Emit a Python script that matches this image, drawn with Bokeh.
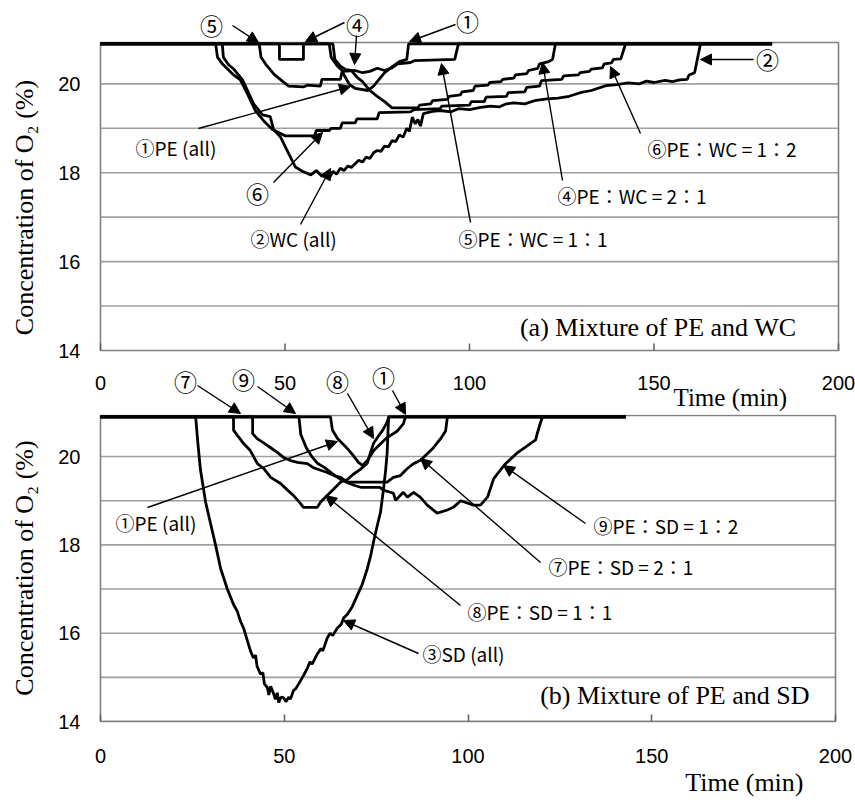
from bokeh.plotting import figure
from bokeh.models import Range1d, FixedTicker, Label, Arrow, NormalHead, Title
from bokeh.layouts import column
from bokeh.embed import file_html
from bokeh.resources import INLINE

# ---------------- data (time in min, O2 concentration in %) ----------------
time_ticks = [0, 50, 100, 150, 200]
o2_ticks = [14, 16, 18, 20]
grid_levels = [15, 16, 17, 18, 19, 20]

# (a) Mixture of PE and WC
a1_t = [0, 62, 62.5, 64, 65.5, 66, 67.5, 69, 72.5, 74, 75.5, 77, 79, 81, 83, 83.5, 182]
a1_y = [20.9, 20.9, 20.6, 20.42, 20.3, 20.2, 19.98, 19.9, 19.85, 19.95, 20.1, 20.25, 20.38, 20.5, 20.55, 20.9, 20.9]

a2_t = [0, 33, 33.3, 34.7, 36, 38.5, 41.5, 43.9, 46, 46.9, 48.8, 51, 52.8, 55, 57, 58.5, 60, 61, 62, 63,
        64, 65, 66, 67, 68, 69, 70, 71, 72, 73, 74, 75, 76, 77, 78, 79, 80, 81, 82, 83,
        83.7, 84.5, 85.3, 86, 86.7, 87.5, 90, 92, 95, 97, 100, 103, 105.7, 108, 110, 112, 115, 118, 121, 124,
        127, 130, 133, 137, 140, 143, 146, 148, 150, 153, 155, 157, 159, 159.5, 161, 162.6, 182]
a2_y = [20.9, 20.9, 20.6, 20.43, 20.34, 20.09, 19.55, 19.3, 19.26, 18.97, 18.8, 18.43, 18.13, 18.02, 17.95, 18.05, 17.92, 17.98, 17.88, 18.03,
        17.97, 18.1, 18.05, 18.15, 18.12, 18.2, 18.28, 18.24, 18.35, 18.32, 18.45, 18.5, 18.48, 18.6, 18.58, 18.72, 18.7, 18.85, 18.8, 19.0,
        18.93, 19.25, 19.1, 19.2, 19.05, 19.33, 19.38, 19.4, 19.37, 19.44, 19.42, 19.47, 19.5, 19.48, 19.55, 19.57, 19.55, 19.63, 19.66, 19.68,
        19.72, 19.8, 19.85, 19.96, 19.98, 20.02, 20.0, 20.06, 20.03, 20.08, 20.05, 20.09, 20.1, 20.2, 20.25, 20.9, 20.9]

a4_t = [0, 48.5, 48.5, 55, 55, 63, 63.5, 65, 66.5, 68, 69.5, 71, 73, 75, 77, 79, 86, 86.5, 89.5, 90,
        94, 94.5, 97.5, 98, 101, 101.5, 105, 105.5, 108.5, 109, 112, 112.5, 115.5, 116, 118.5, 119, 121.5, 122.5, 123.3, 182]
a4_y = [20.9, 20.9, 20.55, 20.55, 20.9, 20.9, 20.55, 20.4, 20.32, 20.3, 20.15, 20.05, 19.85, 19.72, 19.6, 19.46, 19.46, 19.52, 19.55, 19.62,
        19.65, 19.72, 19.75, 19.82, 19.85, 19.95, 19.97, 20.03, 20.05, 20.1, 20.13, 20.2, 20.23, 20.3, 20.35, 20.45, 20.5, 20.55, 20.9, 20.9]

a5_t = [0, 43, 43.5, 44.7, 47, 49.6, 51, 55, 56, 59.6, 60, 65, 65.5, 69, 71, 73, 75, 77, 79, 80.5, 84, 85, 96, 97, 182]
a5_y = [20.9, 20.9, 20.6, 20.45, 20.22, 20.04, 19.95, 19.93, 19.97, 19.95, 20.1, 20.1, 20.28, 20.3, 20.25, 20.28, 20.35, 20.3, 20.36, 20.45, 20.48, 20.52, 20.55, 20.9, 20.9]

a6_t = [0, 31.2, 31.7, 33, 35.8, 37.9, 39.8, 42, 44.2, 46.6, 48.8, 50, 58, 58.5, 62, 62.5, 65, 65.5, 69, 69.5,
        75, 75.5, 84, 85, 92, 92.5, 100, 100.5, 104, 104.5, 110, 110.5, 115, 115.5, 119, 119.5, 125, 125.5, 129.5, 130,
        132.5, 133, 136, 136.5, 138.5, 139, 141, 142.3, 182]
a6_y = [20.9, 20.9, 20.6, 20.45, 20.22, 20.09, 19.78, 19.39, 19.17, 18.97, 18.88, 18.83, 18.83, 18.95, 18.95, 19.0, 19.0, 19.12, 19.12, 19.21,
        19.21, 19.35, 19.37, 19.42, 19.44, 19.5, 19.52, 19.6, 19.6, 19.7, 19.72, 19.8, 19.82, 19.92, 19.95, 20.07, 20.1, 20.18, 20.2, 20.25,
        20.28, 20.33, 20.36, 20.45, 20.47, 20.55, 20.56, 20.9, 20.9]

# (b) Mixture of PE and SD
b1_t = [0, 62.6, 63.1, 64.5, 65.9, 67.2, 68.8, 70.2, 71.3, 72.6, 74.3, 76.2, 78, 80.8, 82.4, 83, 143]
b1_y = [20.9, 20.9, 20.6, 20.41, 20.29, 20.18, 20.02, 19.87, 19.8, 19.91, 20.13, 20.29, 20.43, 20.58, 20.74, 20.9, 20.9]

b3_t = [0, 25.9, 26.5, 27.2, 28.6, 29.9, 31.3, 32.7, 34.5, 36.2, 37.2, 38.1, 39, 40, 40.8, 41.6, 42.2, 42.6, 43.5, 44.2,
        44.6, 45.4, 45.8, 46.3, 47.1, 47.6, 48.1, 48.5, 49.1, 49.8, 50.5, 51.2, 51.7, 52.5, 53.2, 54.4, 55.3, 56.3, 57, 57.6,
        59, 60, 60.5, 61.7, 62.5, 63.2, 64.4, 65.5, 66.2, 67.2, 68.5, 70, 71.2, 72.6, 73.5, 74.3, 75.2, 76.2, 77, 77.6,
        78, 78.4, 143]
b3_y = [20.9, 20.9, 20.3, 19.7, 18.97, 18.5, 18.0, 17.46, 17.0, 16.65, 16.5, 16.27, 16.1, 15.82, 15.6, 15.44, 15.5, 15.25, 15.08, 15.1,
        14.85, 14.77, 14.6, 14.8, 14.63, 14.5, 14.65, 14.43, 14.55, 14.54, 14.45, 14.55, 14.51, 14.7, 14.75, 14.92, 15.05, 15.21, 15.35, 15.3,
        15.53, 15.65, 15.6, 15.89, 16.0, 15.95, 16.11, 16.2, 16.35, 16.43, 16.6, 16.88, 17.1, 17.46, 17.75, 18.07, 18.4, 18.74, 19.26, 19.7,
        20.09, 20.9, 20.9]

b7_t = [0, 41.4, 41.4, 42.7, 44.4, 46.3, 48.2, 49.8, 51.7, 53.6, 56.3, 57.9, 59.9, 61.7, 63.5, 65.3, 67.2, 78, 79.7, 81.6,
        83.5, 85.2, 87, 89, 90.6, 92.5, 93.9, 94.4, 143]
b7_y = [20.9, 20.9, 20.52, 20.4, 20.31, 20.2, 20.09, 19.98, 19.91, 19.87, 19.84, 19.75, 19.69, 19.64, 19.57, 19.53, 19.42, 19.42, 19.53, 19.57,
        19.73, 19.84, 19.91, 20.07, 20.2, 20.4, 20.58, 20.9, 20.9]

b8_t = [0, 36.2, 36.2, 37.5, 38.9, 40.8, 42.7, 44.4, 46.3, 49, 50.9, 52.5, 54.4, 55.2, 59, 59.9, 61.2, 63.4, 65.3, 67.2,
        68.8, 70.7, 72.6, 73.5, 74.3, 75.5, 76.8, 77.8, 78.5, 143]
b8_y = [20.9, 20.9, 20.6, 20.45, 20.3, 20.13, 19.84, 19.73, 19.53, 19.39, 19.24, 19.12, 18.94, 18.85, 18.85, 18.97, 19.08, 19.26, 19.42, 19.48,
        19.6, 19.71, 19.85, 20.1, 20.3, 20.45, 20.6, 20.75, 20.9, 20.9]

b9_t = [0, 54, 54.5, 56, 57.5, 59, 61, 63, 65, 67, 69, 71, 76, 77, 79.7, 80.3, 82.4, 83.5, 85.2, 87,
        88.9, 91.6, 94.4, 96, 98, 101.5, 103.4, 105.3, 107, 110, 113.5, 116.2, 118.4, 118.9, 119.7, 120.3, 143]
b9_y = [20.9, 20.9, 20.5, 20.2, 20.0, 19.85, 19.75, 19.62, 19.5, 19.42, 19.35, 19.3, 19.3, 19.24, 19.17, 19.01, 19.19, 19.08, 19.19, 19.08,
        18.9, 18.72, 18.79, 18.85, 19.0, 18.9, 18.9, 19.08, 19.5, 19.82, 20.09, 20.25, 20.38, 20.54, 20.76, 20.9, 20.9]

panel_a_series = [(a1_t, a1_y), (a2_t, a2_y), (a4_t, a4_y), (a5_t, a5_y), (a6_t, a6_y)]
panel_b_series = [(b1_t, b1_y), (b3_t, b3_y), (b7_t, b7_y), (b8_t, b8_y), (b9_t, b9_y)]

# ---------------- layout constants ----------------
Y_LO, Y_HI = 14, 20.93
T_LO, T_HI = 0, 200
SANS = "Liberation Sans"
SERIF = "Liberation Serif"
CJK = "Noto Sans CJK JP"
BOX = "#808080"
GRID = "#a0a0a0"
FRAME_A = (100, 838, 42, 350)   # page px of panel (a) box: left, right, top, bottom
FRAME_B = (100, 835, 415, 721)  # page px of panel (b) box
SPLIT = 414                     # page px where figure (b) starts
F_LEFT = 88                     # page px where the frames of both figures start


def conv(frame, px, py):
    l, r, t, b = frame
    return (px - l) / (r - l) * (T_HI - T_LO), Y_LO + (b - py) / (b - t) * (Y_HI - Y_LO)


def range_for(frame, page_top, page_bottom):
    x_start, y_top = conv(frame, F_LEFT, page_top)
    x_end, y_bot = conv(frame, 855, page_bottom)
    return Range1d(x_start, x_end), Range1d(y_bot, y_top)


def make_fig(height, frame, page_top, page_bottom, border_bottom, x_axis):
    xr, yr = range_for(frame, page_top, page_bottom)
    p = figure(width=855, height=height, x_range=xr, y_range=yr,
               x_axis_location="below" if x_axis else None,
               min_border_left=F_LEFT, min_border_right=0, min_border_top=0,
               min_border_bottom=border_bottom, output_backend="svg", toolbar_location=None)
    p.background_fill_color = "white"
    p.border_fill_color = "white"
    p.outline_line_color = None
    p.grid.visible = False
    ya = p.yaxis[0]
    ya.ticker = FixedTicker(ticks=o2_ticks)
    ya.bounds = (Y_LO, Y_HI)
    ya.axis_line_color = None
    ya.major_tick_in = 0
    ya.major_tick_out = 0
    ya.minor_tick_line_color = None
    ya.major_label_text_font = SANS
    ya.major_label_text_font_size = "20px"
    ya.major_label_text_color = "black"
    ya.major_label_standoff = 20 - (100 - F_LEFT)
    ya.axis_label = "Concentration of O\u2082 (%)"
    ya.axis_label_text_font = SERIF
    ya.axis_label_text_font_style = "normal"
    ya.axis_label_text_font_size = "26px"
    ya.axis_label_text_color = "black"
    ya.axis_label_standoff = 16
    # grid lines and panel box
    n = len(grid_levels)
    p.segment(x0=[T_LO] * n, y0=grid_levels, x1=[T_HI] * n, y1=grid_levels,
              line_color=GRID, line_width=1.6)
    p.quad(left=[T_LO], right=[T_HI], bottom=[Y_LO], top=[Y_HI], fill_color=None,
           line_color=BOX, line_width=1.6)
    return p


def add_label(p, frame, px, py, text, font=CJK, size="19px", align="left"):
    x, y = conv(frame, px, py)
    p.add_layout(Label(x=x, y=y, text=text, text_font=font, text_font_size=size,
                       text_align=align, text_baseline="middle", text_color="black"))


def add_arrow(p, frame, x0, y0, x1, y1):
    xs, ys = conv(frame, x0, y0)
    xe, ye = conv(frame, x1, y1)
    p.add_layout(Arrow(end=NormalHead(size=11, fill_color="black", line_color="black", line_width=1),
                       x_start=xs, y_start=ys, x_end=xe, y_end=ye,
                       line_color="black", line_width=1.4))


# ---------------- panel (a) ----------------
p1 = make_fig(SPLIT, FRAME_A, 0, SPLIT, 0, False)
for t, y in panel_a_series:
    p1.line(t, y, line_color="black", line_width=2.8)

# time axis of panel (a): inward ticks and labels
tick_len = (Y_HI - Y_LO) / (FRAME_A[3] - FRAME_A[2]) * 7
p1.segment(x0=time_ticks, y0=[Y_LO] * len(time_ticks), x1=time_ticks,
           y1=[Y_LO + tick_len] * len(time_ticks), line_color="#606060", line_width=1.5)
_, y_ticklab = conv(FRAME_A, 0, 382)
for t in time_ticks:
    p1.add_layout(Label(x=t, y=y_ticklab, text=str(t), text_font=SANS, text_font_size="20px",
                        text_align="center", text_baseline="middle", text_color="black"))
add_label(p1, FRAME_A, 673, 397, "Time (min)", font=SERIF, size="25px")

add_label(p1, FRAME_A, 211, 24, "\u2464", size="23px", align="center")
add_arrow(p1, FRAME_A, 232, 25, 258, 42)
add_label(p1, FRAME_A, 357, 23, "\u2463", size="23px", align="center")
add_arrow(p1, FRAME_A, 344, 22, 305, 41)
add_arrow(p1, FRAME_A, 356, 35, 354, 64)
add_label(p1, FRAME_A, 467, 20, "\u2460", size="23px", align="center")
add_arrow(p1, FRAME_A, 455, 24, 409, 41)
add_label(p1, FRAME_A, 767, 58, "\u2461", size="23px", align="center")
add_arrow(p1, FRAME_A, 753, 59, 700, 59)
add_label(p1, FRAME_A, 135, 147, "\u2460PE (all)")
add_arrow(p1, FRAME_A, 198, 128, 350, 86)
add_label(p1, FRAME_A, 257, 192, "\u2465", size="23px", align="center")
add_arrow(p1, FRAME_A, 273, 182, 322, 132)
add_label(p1, FRAME_A, 250, 238, "\u2461WC (all)")
add_arrow(p1, FRAME_A, 300, 224, 330, 168)
add_label(p1, FRAME_A, 647, 148, "\u2465PE\uff1aWC = 1\uff1a2")
add_arrow(p1, FRAME_A, 640, 133, 610, 66)
add_label(p1, FRAME_A, 557, 195, "\u2463PE\uff1aWC = 2\uff1a1")
add_arrow(p1, FRAME_A, 562, 180, 542, 62)
add_label(p1, FRAME_A, 458, 238, "\u2464PE\uff1aWC = 1\uff1a1")
add_arrow(p1, FRAME_A, 470, 222, 441, 63)
add_label(p1, FRAME_A, 796, 327, "(a) Mixture of PE and WC", font=SERIF, size="26px", align="right")

# markers of panel (b) sitting above its box
add_label(p1, FRAME_A, 185, 380, "\u2466", size="23px", align="center")
add_label(p1, FRAME_A, 243, 378, "\u2468", size="23px", align="center")
add_label(p1, FRAME_A, 337, 380, "\u2467", size="23px", align="center")
add_label(p1, FRAME_A, 383, 376, "\u2460", size="23px", align="center")

# ---------------- panel (b) ----------------
p2 = make_fig(804 - SPLIT, FRAME_B, SPLIT, FRAME_B[3], 83, True)
xa = p2.xaxis[0]
xa.ticker = FixedTicker(ticks=time_ticks)
xa.bounds = (T_LO, T_HI)
xa.axis_line_color = BOX
xa.axis_line_width = 1.6
xa.major_tick_in = 7
xa.major_tick_out = 0
xa.major_tick_line_color = "#606060"
xa.major_tick_line_width = 1.5
xa.minor_tick_line_color = None
xa.major_label_text_font = SANS
xa.major_label_text_font_size = "20px"
xa.major_label_text_color = "black"
xa.major_label_standoff = 27
p2.add_layout(Title(text="Time (min)", align="right", offset=52, standoff=0,
                    text_font=SERIF, text_font_size="26px", text_font_style="normal",
                    text_color="black"), "below")

for t, y in panel_b_series:
    p2.line(t, y, line_color="black", line_width=2.8)

top_arrows_b = [(197, 385, 240, 413), (257, 386, 295, 413), (347, 393, 373, 438), (392, 390, 405, 414)]
for x0, y0, x1, y1 in top_arrows_b:
    add_arrow(p1, FRAME_A, x0, y0, x1, y1)
    add_arrow(p2, FRAME_B, x0, y0, x1, y1)

add_label(p2, FRAME_B, 115, 522, "\u2460PE (all)")
add_arrow(p2, FRAME_B, 147, 507, 337, 441)
add_label(p2, FRAME_B, 593, 525, "\u2468PE\uff1aSD = 1\uff1a2")
add_arrow(p2, FRAME_B, 585, 523, 503, 465)
add_label(p2, FRAME_B, 548, 566, "\u2466PE\uff1aSD = 2\uff1a1")
add_arrow(p2, FRAME_B, 540, 562, 420, 458)
add_label(p2, FRAME_B, 467, 611, "\u2467PE\uff1aSD = 1\uff1a1")
add_arrow(p2, FRAME_B, 460, 605, 325, 495)
add_label(p2, FRAME_B, 422, 653, "\u2462SD (all)")
add_arrow(p2, FRAME_B, 418, 653, 343, 620)
add_label(p2, FRAME_B, 809, 695, "(b) Mixture of PE and SD", font=SERIF, size="26px", align="right")

layout = column(p1, p2, spacing=0)
open("out.html", "w").write(file_html(layout, INLINE))
